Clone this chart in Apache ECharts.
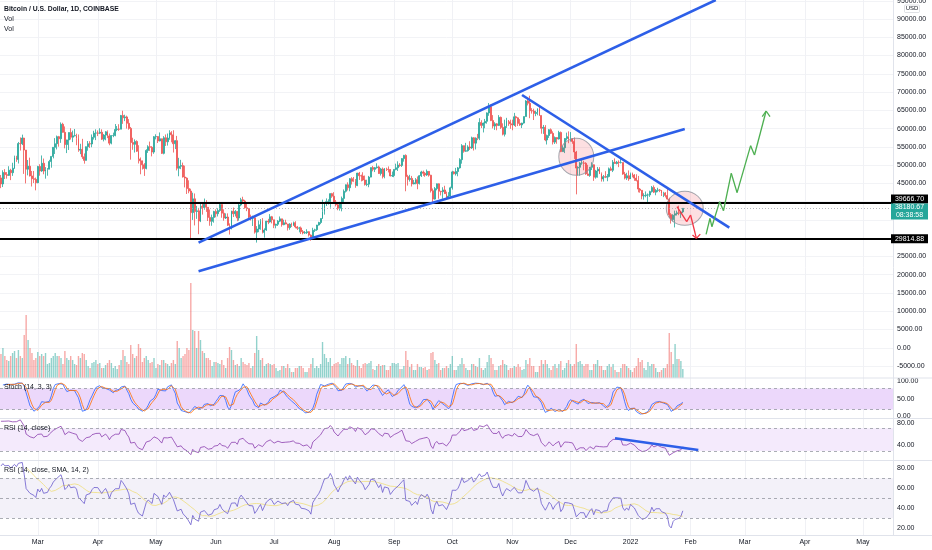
<!DOCTYPE html>
<html><head><meta charset="utf-8">
<script src="https://cdn.jsdelivr.net/npm/echarts@6/dist/echarts.min.js"></script>
<style>html,body{margin:0;padding:0;background:#fff}#c{width:932px;height:550px}</style>
</head><body><div id="c"></div>
<script>
// ---------------- DATA ----------------
const startDate = '2021-02-10';
const endDate = '2022-05-16';
// warm-up history (2021-01-27 .. 2021-02-09), used only to seed the indicators
const histClose = [30400,33450,34300,34300,33100,33550,35500,37650,36950,38300,39250,38850,46450,46500];
const histHigh  = [32550,33800,38500,34900,34400,34700,35950,37700,38700,38300,40950,39700,46750,48150];
const histLow   = [29250,30000,31950,32850,32050,32300,33450,35350,36200,36600,38200,37350,38050,45000];

// daily candles 2021-02-10 .. 2022-01-28 (open = previous close)
const closes = [
 44850,47990,47400,47190,48600,47930,49150,52120,51550,55900,55850,57410,54120,48880,49710,47050,46280,46110,45170,
 49630,48400,50520,48370,48760,48880,50970,52390,54880,55860,57800,57230,61190,58970,55640,56910,58930,57650,58030,58100,57350,54100,54340,52300,51300,55050,55860,55790,57630,58770,58800,
 58750,59000,57100,58220,59130,57990,56020,58100,58100,59770,59880,59840,63580,62960,63200,61450,60050,56190,55700,56490,53800,51700,51190,50100,49090,54030,55040,54880,53580,57780,
 57830,56620,57230,53220,57500,56400,57400,58900,58300,55860,56710,49150,49700,49880,46760,46450,43580,42900,37000,40770,37310,37500,34700,38750,38380,39300,38470,35690,34620,35670,37300,
 36700,37570,39200,36850,35520,35800,33570,33380,37390,36690,37330,35550,39100,40520,40170,38330,38090,35820,35490,35600,31650,32510,33680,34660,31590,32240,34670,34450,35870,35040,
 33530,33820,34670,35290,33700,34220,33870,32880,33820,33520,34260,33090,32730,32820,31780,31420,31520,31780,30840,29790,32140,32310,33600,34290,35400,37280,39470,40010,40030,42200,41490,
 39860,39150,38200,39740,40890,42830,44620,43820,46290,45590,45560,44400,47820,47100,47030,45930,44700,44800,46720,49320,48840,49300,49520,47700,48950,46850,49100,48900,48800,47050,47150,
 48830,49280,50030,49930,51790,52670,46860,46080,46370,44850,45160,46030,44950,47100,48140,47760,47300,48300,47250,43000,40700,43570,44890,42840,42720,43210,42190,41040,41520,43790,
 48150,47650,48250,49250,51500,55340,53800,53950,54980,54700,57480,56020,57380,57340,61680,60880,61530,62000,64300,66000,62200,60700,61300,60870,63080,60330,58450,60600,62250,61880,61330,
 61000,63230,62940,61430,61010,61520,63300,67550,66950,64900,64820,64150,64400,65500,63600,60100,60350,56900,58100,59700,58700,56300,57550,57150,58950,53700,54750,57300,57800,57000,
 57250,56500,53600,49200,49400,50600,50600,50500,47600,47150,49400,50100,46700,48400,48900,47650,46200,46850,46700,46900,49000,48600,50800,50450,50800,50700,50700,47550,46450,47100,46200,
 47700,47300,46450,45800,43450,43100,41550,41700,41850,41850,42750,43900,42600,43100,43200,43100,42250,42400,41700,40700,36450,35100,36300,36700,36950,36850,37200,38180.67
];
const highs = [
 47300,48600,48900,48100,49700,49000,50650,52600,52550,56350,57600,58350,57500,54150,51400,52050,48400,48400,46600,
 49800,50250,52650,51800,49450,49200,51450,52400,54900,57400,58100,58000,61700,61600,60600,56950,58950,60100,59450,59900,58600,58400,55850,57200,53200,55100,56600,56550,58400,59400,59800,
 59500,60100,59800,58500,59300,59500,58650,58150,58900,61250,60700,61200,63750,64900,63800,63550,62600,60450,57500,57050,56800,55450,52100,51200,50550,54350,55450,56450,55200,57950,
 58450,57950,58950,57250,57950,58400,58650,59550,59300,59550,56850,58000,52000,51450,50700,49850,46650,45850,43550,42450,42250,38850,38300,39900,39850,40850,40400,38450,37850,36450,37500,
 37900,38200,39450,39250,37900,36800,36800,34050,37550,38400,37700,37450,39400,41050,41350,40500,39550,38200,36450,36150,35750,33300,34850,35250,35500,32700,34750,35300,36600,36100,
 35050,33950,34950,35950,35300,35050,35050,33920,34100,34250,34550,34650,33350,33100,33200,32250,31950,32450,31900,31050,32850,32600,33650,34500,35400,40550,39550,40900,40650,42300,42400,
 42600,40450,39750,39950,41400,43350,44700,45300,46450,46700,46750,46200,47900,48150,47400,48050,47150,46000,47050,49350,49800,49500,50500,49850,49250,49350,49200,49300,49650,48900,48250,
 48850,50400,51050,50550,51900,52800,52950,47350,47350,47050,45950,46450,46900,47250,48450,48500,48150,48800,48350,47350,43600,44000,44950,45000,42950,43950,44350,42750,42600,44100,
 48450,48350,49250,49500,51900,55750,55350,56100,55450,56550,57800,57650,57600,58550,62850,62300,61650,62650,64450,67000,66600,63700,61750,61500,63700,63300,61450,62450,62950,62350,62450,
 62450,64300,63500,63100,62600,61600,63300,67800,68500,69000,65600,65450,64900,65500,66300,63600,61000,60950,58350,59850,60050,59250,57850,57650,59400,59200,55300,57400,58900,59250,
 59050,57400,57600,53900,49700,50900,51950,51200,50800,50100,49500,50800,50200,48700,49500,49450,48000,47300,48350,47550,49350,49600,51400,51850,51150,51300,52050,50700,48150,47900,48550,
 47950,47950,47550,47500,47050,43750,43150,42300,42800,42250,43000,44300,44450,43450,43800,43450,43200,42700,42600,43500,41100,36850,36550,37550,37550,38900,37250,38200
];
const lows = [
 43700,44000,46200,46300,47050,45900,47050,48950,50900,50450,54000,55500,47600,45000,47200,46900,44150,45100,43100,
 45050,47100,48150,47500,46300,47100,48900,49300,51850,53050,54300,55050,56100,58900,54600,53300,54150,57000,56300,57850,55450,53650,53000,51700,50400,51300,53950,54700,54900,57000,56850,
 57950,58500,56900,56500,56800,57400,55450,55700,57650,57900,59300,59380,59850,61300,62050,60000,59700,51500,54200,53450,53600,50450,47500,48800,47050,48850,53350,53900,52400,53100,
 57050,56050,56500,53050,52950,55250,55350,56950,56250,53450,54400,48550,46950,48900,46600,43900,42100,42300,30000,35000,33500,35300,31100,34400,36450,37800,37200,34700,33400,33400,34250,
 35700,35950,37200,35600,34800,35250,33350,31000,32400,35800,35950,34650,34800,38750,39500,38100,37400,35150,34850,33350,31250,28800,31650,32300,31300,30150,32000,33850,34250,34050,
 32750,32700,33350,34400,33150,33550,33800,32100,32300,33050,33350,32700,32250,31600,31150,31050,31200,31150,30450,29300,29500,31700,32000,33450,33850,35250,36450,38800,39200,38350,41050,
 39450,38700,37650,37550,37350,39850,42500,43050,42850,44700,45350,43800,44250,45950,45550,45700,44400,44250,43950,46650,48300,48100,49050,47600,47150,46350,46400,48400,48000,46900,46750,
 46700,48600,48400,49550,49500,50950,42850,44400,45500,44150,44750,44750,43400,44700,46750,47050,46800,47050,46850,42500,39600,40550,43100,40800,41700,40800,42100,40950,40800,41450,
 43300,47450,47150,46950,49050,50400,53400,53650,53700,54150,54450,54000,54300,56850,56850,60150,58950,60100,61350,63500,62050,60050,59650,59550,60700,59900,58150,57850,60200,60750,59950,
 59550,60700,60450,60700,60750,60150,61350,63300,66350,62850,64100,62350,63400,63650,63450,58600,58550,56550,55650,57450,58500,55650,55800,55850,57000,53550,53650,53300,56750,56000,
 56450,55850,51700,42000,47150,47100,50100,48600,47350,47150,46800,48650,45700,46300,46550,47550,45500,45500,46450,45600,46650,48450,48100,50400,50200,49450,50450,47350,46100,45950,45700,
 46200,46650,45700,45550,42550,42450,40650,40550,41200,39650,41300,42500,42350,41750,42600,42600,41550,41250,41150,40550,35500,34000,34600,32950,36200,36300,35550,36850
];
// volume, thousand BTC
const volumes = [
 24,30,22,18,17,22,25,27,20,28,22,20,43,63,38,30,25,18,20,
 26,22,24,22,25,14,15,20,22,25,22,22,20,14,27,20,18,22,18,14,13,22,20,25,24,18,12,10,15,16,18,
 14,15,10,10,13,15,18,15,10,12,9,13,18,28,22,16,14,33,24,20,22,34,30,16,20,22,18,15,16,20,
 10,14,13,18,18,15,14,12,15,18,14,37,30,20,22,24,30,28,95,48,47,30,47,38,27,25,20,20,18,12,16,
 16,15,14,18,13,10,20,31,28,18,13,14,12,20,16,14,13,15,10,12,25,42,28,18,20,12,14,15,14,13,
 14,10,7,8,12,12,10,14,10,6,6,10,10,12,12,10,6,6,10,14,20,10,12,10,14,36,24,20,16,20,12,
 14,15,16,14,20,20,22,14,20,15,13,12,18,12,10,14,15,14,15,17,9,8,12,14,12,13,13,8,8,12,15,
 15,14,15,9,9,12,27,18,11,14,8,8,14,11,11,10,11,8,9,25,26,18,14,15,8,10,10,12,10,14,
 22,8,8,12,14,20,14,10,8,8,14,14,12,11,20,10,8,10,16,23,20,14,8,8,12,13,18,14,13,8,10,
 10,12,11,14,11,8,9,18,14,20,12,12,6,6,12,18,14,18,14,10,8,12,14,10,14,17,8,10,15,18,
 14,12,14,34,16,17,14,12,14,14,8,8,14,14,18,12,12,8,8,12,14,11,14,8,6,6,10,14,14,12,10,
 8,6,10,12,20,16,18,10,8,16,12,14,14,10,6,6,8,10,10,14,45,26,14,34,19,19,17,9
];

// drawings (date, price)
const levelLines = [39666.70, 29814.88];
const lastPrice = 38180.67;
const countdown = '08:38:58';
const hiddenPriceTicks = [30000, 35000, 40000];   // covered by the level/price labels
const trendLines = [
  [['2021-05-23', 28770], ['2022-02-14', 95200]],
  [['2021-05-23', 20940], ['2022-01-29', 59900]],
  [['2021-11-06', 69200], ['2022-02-21', 32880]]
];
const circles = [['2021-12-04', 52310, 35, 37], ['2022-01-29', 38190, 37, 34]];
const redPath  = [['2022-01-25', 38630], ['2022-01-30', 34520], ['2022-02-01', 36350], ['2022-02-04', 29950]];
const redHead  = [['2022-02-02', 30850], ['2022-02-04', 29950], ['2022-02-06', 31100]];
const greenPath = [['2022-02-09', 31070], ['2022-02-11', 35450], ['2022-02-12', 33150], ['2022-02-16', 40000],
  ['2022-02-18', 37530], ['2022-02-22', 47770], ['2022-02-25', 42460], ['2022-03-04', 55330],
  ['2022-03-06', 52780], ['2022-03-12', 64820]];
const greenHead = [['2022-03-10', 63300], ['2022-03-12', 64820], ['2022-03-14', 63300]];
const rsiTrend = [['2021-12-24', 52.4], ['2022-02-05', 31.8]];

const monthNames = ['Jan','Feb','Mar','Apr','May','Jun','Jul','Aug','Sep','Oct','Nov','Dec'];

// ---------------- BUILD ----------------
function check(name, arr, n){ if (arr.length !== n) throw new Error(name + ' length ' + arr.length + ' expected ' + n); }
check('highs', highs, closes.length); check('lows', lows, closes.length); check('volumes', volumes, closes.length);
check('closes', closes, 353);

const days = [];
for (let t = Date.parse(startDate + 'T00:00:00Z'); t <= Date.parse(endDate + 'T00:00:00Z'); t += 86400000) {
  days.push(new Date(t).toISOString().slice(0, 10));
}

const opens = closes.map((c, i) => i === 0 ? histClose[histClose.length - 1] : closes[i - 1]);
const candleData = closes.map((c, i) => {
  const o = opens[i];
  return [o, c, Math.min(lows[i], o, c), Math.max(highs[i], o, c)];
});
const volData = volumes.map((v, i) => ({
  value: v,
  itemStyle: { color: closes[i] >= opens[i] ? 'rgba(38,166,154,0.5)' : 'rgba(239,83,80,0.5)' }
}));

// indicators derived from the candles
const off = histClose.length;
const aC = histClose.concat(closes);
const aH = histHigh.concat(candleData.map(d => d[3]));
const aL = histLow.concat(candleData.map(d => d[2]));
function rsiCalc(src, n) {
  const out = new Array(src.length).fill(null); let ag = 0, al = 0;
  for (let i = 1; i < src.length; i++) {
    const ch = src[i] - src[i - 1], g = Math.max(ch, 0), l = Math.max(-ch, 0);
    if (i <= n) { ag += g; al += l; if (i === n) { ag /= n; al /= n; out[i] = al === 0 ? 100 : 100 - 100 / (1 + ag / al); } }
    else { ag = (ag * (n - 1) + g) / n; al = (al * (n - 1) + l) / n; out[i] = al === 0 ? 100 : 100 - 100 / (1 + ag / al); }
  }
  return out;
}
function sma(src, n) {
  const out = new Array(src.length).fill(null);
  for (let i = n - 1; i < src.length; i++) {
    let s = 0, ok = true;
    for (let j = i - n + 1; j <= i; j++) { if (src[j] == null) { ok = false; break; } s += src[j]; }
    if (ok) out[i] = s / n;
  }
  return out;
}
function stochRaw(n) {
  const out = new Array(aC.length).fill(null);
  for (let i = n - 1; i < aC.length; i++) {
    let hh = -Infinity, ll = Infinity;
    for (let j = i - n + 1; j <= i; j++) { hh = Math.max(hh, aH[j]); ll = Math.min(ll, aL[j]); }
    out[i] = hh === ll ? 50 : 100 * (aC[i] - ll) / (hh - ll);
  }
  return out;
}
const rsiAll = rsiCalc(aC, 14);
const rsi = rsiAll.slice(off);
const rsiSma = sma(rsiAll, 14).slice(off);
const kAll = sma(stochRaw(14), 3);
const stochK = kAll.slice(off);
const stochD = sma(kAll, 3).slice(off);

// ---------------- CHART ----------------
const FONT = '"Liberation Sans", Arial, sans-serif';
const TXT = '#131722';
const isMonthStart = (idx, val) => String(val).slice(8) === '01';
const fmtMonth = (val) => { const m = +val.slice(5, 7); return m === 1 ? val.slice(0, 4) : monthNames[m - 1]; };

const RIGHT = 39;
const grids = [
  { left: 0, right: RIGHT, top: -17.5, height: 401.8 },   // price
  { left: 0, right: RIGHT, top: 0, height: 378 },         // volume
  { left: 0, right: RIGHT, top: 363.9, height: 70 },      // stoch
  { left: 0, right: RIGHT, top: 399.9, height: 68.1 },    // rsi
  { left: 0, right: RIGHT, top: 448.3, height: 100 },     // rsi + sma
  { left: 0, right: RIGHT, top: 0, height: 535 }          // time axis
].map(g => Object.assign({ containLabel: false, outerBoundsMode: 'none', show: false }, g));

const xAxes = grids.map((g, i) => ({
  type: 'category', gridIndex: i, data: days, boundaryGap: true, show: i === 5,
  axisLine: { show: false }, axisTick: { show: false },
  axisLabel: { show: i === 5, interval: isMonthStart, formatter: fmtMonth, fontSize: 7, color: TXT, margin: 4, fontFamily: FONT },
  splitLine: { show: i === 5, interval: isMonthStart, alignWithLabel: true, lineStyle: { color: '#f0f1f5', width: 1 } }
}));

function rangeFmt(lo, hi, skip) {
  return v => (v < lo - 1e-6 || v > hi + 1e-6 || (skip && skip.indexOf(v) >= 0)) ? '' : v.toFixed(2);
}
const priceSplitColors = [];
for (let v = -10000; v <= 100000; v += 5000) priceSplitColors.push((v < -5000 || v > 95000) ? 'rgba(0,0,0,0)' : '#f2f3f6');
const yLabel = { fontSize: 7, color: TXT, margin: 4, fontFamily: FONT };
const yAxes = [
  { type: 'value', gridIndex: 0, position: 'right', min: -10000, max: 100000, interval: 5000,
    axisLine: { show: false }, axisTick: { show: false },
    axisLabel: Object.assign({ formatter: rangeFmt(-5000, 95000, hiddenPriceTicks) }, yLabel),
    splitLine: { show: true, lineStyle: { color: priceSplitColors, width: 1 } } },
  { type: 'value', gridIndex: 1, min: 0, max: 378, show: false, splitLine: { show: false } },
  { type: 'value', gridIndex: 2, position: 'right', min: -50, max: 150, interval: 50,
    axisLine: { show: false }, axisTick: { show: false }, splitLine: { show: false },
    axisLabel: Object.assign({ formatter: rangeFmt(0, 100) }, yLabel) },
  { type: 'value', gridIndex: 3, position: 'right', min: 0, max: 120, interval: 40,
    axisLine: { show: false }, axisTick: { show: false }, splitLine: { show: false },
    axisLabel: Object.assign({ formatter: rangeFmt(40, 80) }, yLabel) },
  { type: 'value', gridIndex: 4, position: 'right', min: 0, max: 100, interval: 20,
    axisLine: { show: false }, axisTick: { show: false }, splitLine: { show: false },
    axisLabel: Object.assign({ formatter: rangeFmt(20, 80) }, yLabel) },
  { type: 'value', gridIndex: 5, min: 0, max: 1, show: false, splitLine: { show: false } }
];

const BLUE = '#2d5fe8';
const mainLines = [];
levelLines.forEach(v => mainLines.push({ yAxis: v, lineStyle: { color: '#000', width: 2, type: 'solid' } }));
mainLines.push({ yAxis: lastPrice, lineStyle: { color: '#a3a6af', width: 0.8, type: [1, 2] } });
trendLines.forEach(t => {
  const ls = { color: BLUE, width: 2.6, type: 'solid' };
  mainLines.push([{ coord: t[0], lineStyle: ls }, { coord: t[1], lineStyle: ls }]);
});

const pathLines = [];
function addPath(pts, color) {
  for (let i = 0; i < pts.length - 1; i++) {
    const ls = { color, width: 1.3, type: 'solid' };
    pathLines.push([{ coord: pts[i], lineStyle: ls }, { coord: pts[i + 1], lineStyle: ls }]);
  }
}
addPath(redPath, '#f23645'); addPath(redHead, '#f23645');
addPath(greenPath, '#4caf50'); addPath(greenHead, '#4caf50');

const dash = { color: '#9598a1', type: [3, 3], width: 0.8 };
const series = [
  { type: 'bar', name: 'Vol', xAxisIndex: 1, yAxisIndex: 1, data: volData, barWidth: '72%', silent: true },
  { type: 'candlestick', name: 'BTCUSD', xAxisIndex: 0, yAxisIndex: 0, data: candleData, barWidth: 1.4,
    itemStyle: { color: '#26a69a', color0: '#ef5350', borderColor: '#26a69a', borderColor0: '#ef5350', borderWidth: 0.8 },
    markLine: { silent: true, symbol: ['none', 'none'], label: { show: false }, data: mainLines } },
  { type: 'scatter', name: 'zones', xAxisIndex: 0, yAxisIndex: 0, z: 3, silent: true,
    data: circles.map(c => ({ value: [c[0], c[1]], symbolSize: [c[2], c[3]] })),
    itemStyle: { color: 'rgba(242,54,69,0.2)', borderColor: '#8f929b', borderWidth: 1 },
    markLine: { silent: true, symbol: ['none', 'none'], label: { show: false }, data: pathLines } },
  { type: 'line', name: '%K', xAxisIndex: 2, yAxisIndex: 2, data: stochK, symbol: 'none', silent: true,
    lineStyle: { color: '#2962FF', width: 0.8 },
    markArea: { silent: true, itemStyle: { color: '#ecd8fb' }, data: [[{ yAxis: 20 }, { yAxis: 80 }]] },
    markLine: { silent: true, symbol: ['none', 'none'], label: { show: false }, lineStyle: dash, data: [{ yAxis: 80 }, { yAxis: 20 }] } },
  { type: 'line', name: '%D', xAxisIndex: 2, yAxisIndex: 2, data: stochD, symbol: 'none', silent: true,
    lineStyle: { color: '#FF6D00', width: 0.8 } },
  { type: 'line', name: 'RSI', xAxisIndex: 3, yAxisIndex: 3, data: rsi, symbol: 'none', silent: true,
    lineStyle: { color: '#8b3fae', width: 0.8 },
    markArea: { silent: true, itemStyle: { color: '#f4eafc' }, data: [[{ yAxis: 30 }, { yAxis: 70 }]] },
    markLine: { silent: true, symbol: ['none', 'none'], label: { show: false }, lineStyle: dash,
      data: [{ yAxis: 70 }, { yAxis: 30 },
        [{ coord: rsiTrend[0], lineStyle: { color: BLUE, width: 2.4, type: 'solid' } }, { coord: rsiTrend[1], lineStyle: { color: BLUE, width: 2.4, type: 'solid' } }]] } },
  { type: 'line', name: 'RSI2', xAxisIndex: 4, yAxisIndex: 4, data: rsi, symbol: 'none', silent: true, z: 3,
    lineStyle: { color: '#6a5acd', width: 0.8 },
    markArea: { silent: true, itemStyle: { color: '#f3f1f9' }, data: [[{ yAxis: 30 }, { yAxis: 70 }]] },
    markLine: { silent: true, symbol: ['none', 'none'], label: { show: false }, lineStyle: dash, data: [{ yAxis: 70 }, { yAxis: 50 }, { yAxis: 30 }] } },
  { type: 'line', name: 'RSI SMA', xAxisIndex: 4, yAxisIndex: 4, data: rsiSma, symbol: 'none', silent: true, z: 2,
    lineStyle: { color: '#efe08a', width: 0.9 } },
  { type: 'line', name: 'axis', xAxisIndex: 5, yAxisIndex: 5, data: [], symbol: 'none', silent: true }
];

const chart = echarts.init(document.getElementById('c'), null, { renderer: 'canvas' });
chart.setOption({ animation: false, backgroundColor: '#ffffff', grid: grids, xAxis: xAxes, yAxis: yAxes, series });

// ---------------- OVERLAY TEXT / LABELS ----------------
const yTop = chart.convertToPixel({ yAxisIndex: 0 }, levelLines[0]);
const yBot = chart.convertToPixel({ yAxisIndex: 0 }, levelLines[1]);
function txt(x, y, text, font, fill, align) {
  return { type: 'text', x, y, silent: true, z: 100,
    style: { text, font, fill, align: align || 'left', textAlign: align || 'left', verticalAlign: 'middle', textVerticalAlign: 'middle', lineHeight: 8 } };
}
function hline(y) { return { type: 'line', silent: true, z: 90, shape: { x1: 0, y1: y, x2: 932, y2: y }, style: { stroke: '#e0e3eb', lineWidth: 1 } }; }
function box(top, h, bg, text) {
  return [
    { type: 'rect', silent: true, z: 100, shape: { x: 891, y: top, width: 37, height: h }, style: { fill: bg } },
    txt(909.5, top + h / 2, text, '7px ' + FONT, '#ffffff', 'center')
  ];
}
const f7 = '7px ' + FONT;
const graphic = [
  { type: 'line', silent: true, z: 90, shape: { x1: 893.5, y1: 0, x2: 893.5, y2: 535 }, style: { stroke: '#e0e3eb', lineWidth: 1 } },
  hline(378), hline(418.5), hline(460.5), hline(535.5),
  txt(4, 9, 'Bitcoin / U.S. Dollar, 1D, COINBASE', 'bold 6.8px ' + FONT, TXT),
  txt(4, 19, 'Vol', f7, TXT),
  txt(4, 28.7, 'Vol', f7, TXT),
  txt(4, 387.5, 'Stoch (14, 3, 3)', f7, TXT),
  txt(4, 428.3, 'RSI (14, close)', f7, TXT),
  txt(4, 470, 'RSI (14, close, SMA, 14, 2)', f7, TXT),
  { type: 'rect', silent: true, z: 100, shape: { x: 904.5, y: 5, width: 15, height: 7.5, r: 1 }, style: { fill: '#fff', stroke: '#c9ccd3', lineWidth: 0.6 } },
  txt(912, 8.8, 'USD', '6px ' + FONT, TXT, 'center')
].concat(
  box(yTop - 8.5, 9, '#000000', levelLines[0].toFixed(2)),
  box(yTop + 0.5, 16, '#26a69a', lastPrice.toFixed(2) + '\n' + countdown),
  box(yBot - 4.5, 9, '#000000', levelLines[1].toFixed(2))
);
chart.setOption({ graphic });
</script>
</body></html>
